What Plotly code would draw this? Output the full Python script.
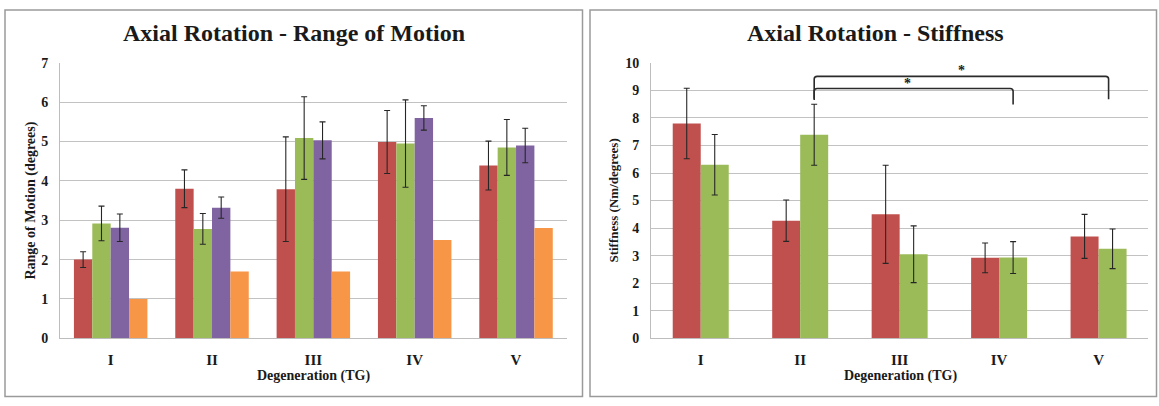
import plotly.graph_objects as go

# ---- data -------------------------------------------------------------
grades = ["I", "II", "III", "IV", "V"]

rom_red = [2.0, 3.8, 3.79, 4.99, 4.39]
rom_red_err = [0.2, 0.48, 1.33, 0.8, 0.62]
rom_green = [2.92, 2.78, 5.09, 4.95, 4.85]
rom_green_err = [0.44, 0.39, 1.05, 1.11, 0.71]
rom_purple = [2.81, 3.32, 5.03, 5.6, 4.9]
rom_purple_err = [0.35, 0.27, 0.47, 0.31, 0.44]
rom_orange = [1.0, 1.7, 1.7, 2.5, 2.8]

stf_red = [7.8, 4.27, 4.5, 2.92, 3.7]
stf_red_err = [1.28, 0.75, 1.78, 0.54, 0.8]
stf_green = [6.3, 7.39, 3.05, 2.93, 3.25]
stf_green_err = [1.1, 1.11, 1.03, 0.58, 0.72]

# significance brackets on the stiffness chart: (from grade, to grade, top, left drop, right drop, star height)
sig_pairs = [
    (1, 3, 9.07, 8.7, 8.49, 9.25),
    (1, 4, 9.51, 8.65, 8.68, 9.74),
]

# ---- style ------------------------------------------------------------
RED, GREEN, PURPLE, ORANGE = "#C0504D", "#9BBB59", "#8064A2", "#F79646"
FONT = "Liberation Serif"
TXT = "#1a1a1a"
GRID = "#c2c2c2"
W, H = 1159, 406

LEFT_GAP = 0.275
RIGHT_GAP = 0.437


def px(x):
    return x / W


def py(y):
    return (H - y) / H


x_idx = list(range(len(grades)))
fig = go.Figure()


def err(vals):
    return dict(type="data", array=vals, visible=True, color="#262626", thickness=1.1, width=3)


rom_w = (1 - LEFT_GAP) / 4
rom_series = [(rom_red, rom_red_err, RED), (rom_green, rom_green_err, GREEN),
              (rom_purple, rom_purple_err, PURPLE), (rom_orange, None, ORANGE)]
for k, (vals, e, col) in enumerate(rom_series):
    fig.add_trace(go.Bar(x=x_idx, y=vals, marker=dict(color=col, line=dict(width=0)),
                         error_y=err(e) if e else None, xaxis="x", yaxis="y",
                         width=rom_w, offset=-2 * rom_w + k * rom_w, showlegend=False))

stf_w = (1 - RIGHT_GAP) / 2
stf_series = [(stf_red, stf_red_err, RED), (stf_green, stf_green_err, GREEN)]
for k, (vals, e, col) in enumerate(stf_series):
    fig.add_trace(go.Bar(x=x_idx, y=vals, marker=dict(color=col, line=dict(width=0)),
                         error_y=err(e), xaxis="x2", yaxis="y2",
                         width=stf_w, offset=-stf_w + k * stf_w, showlegend=False))

tickfont = dict(family=FONT, size=14, color=TXT, weight="bold")
xcommon = dict(tickmode="array", tickvals=x_idx, ticktext=grades, range=[-0.5, 4.5],
               showgrid=False, showline=True, linecolor="#bdbdbd", linewidth=1,
               ticks="", tickfont=dict(family=FONT, size=15, color=TXT, weight="bold"),
               ticklabelstandoff=8, zeroline=False, fixedrange=True)
ycommon = dict(showgrid=True, gridcolor=GRID, gridwidth=1, showline=True, linecolor="#bdbdbd",
               linewidth=1, ticks="", tickfont=tickfont, ticklabelstandoff=8,
               zeroline=False, dtick=1, fixedrange=True)

y_bot, y_top = 344, 58
fig.update_layout(
    width=W, height=H, margin=dict(l=0, r=0, t=0, b=0),
    paper_bgcolor="white", plot_bgcolor="white",
    barmode="overlay",
    xaxis=dict(domain=[px(60), px(566.7)], anchor="y", **xcommon),
    yaxis=dict(domain=[py(y_bot), py(y_top)], anchor="x", range=[0, 7], **ycommon),
    xaxis2=dict(domain=[px(651), px(1148.3)], anchor="y2", **xcommon),
    yaxis2=dict(domain=[py(y_bot), py(y_top)], anchor="x2", range=[0, 10], **ycommon),
)

shapes = []
# panel frames
for x0, x1 in [(5, 582.5), (590, 1156.5)]:
    shapes.append(dict(type="rect", xref="paper", yref="paper", x0=px(x0), x1=px(x1),
                       y0=py(404.5), y1=py(3), line=dict(color="#9a9a9a", width=1.5)))

annotations = []
# significance brackets
green_off = stf_w / 2
rx, ry = 0.03, 0.1
for a, b, top, dl, dr, star in sig_pairs:
    xl = a + green_off
    xr = b + green_off - (0.04 if b == 4 else 0)
    path = (f"M {xl},{dl} L {xl},{top - ry} Q {xl},{top} {xl + rx},{top} "
            f"L {xr - rx},{top} Q {xr},{top} {xr},{top - ry} L {xr},{dr}")
    shapes.append(dict(type="path", xref="x2", yref="y2", path=path,
                       line=dict(color="#2b2b2b", width=1.6)))
    annotations.append(dict(x=(xl + xr) / 2 - (0.06 if b == 3 else 0), y=star, xref="x2", yref="y2",
                            xanchor="center", yanchor="middle",
                            text="*", showarrow=False,
                            font=dict(family=FONT, size=14, color=TXT, weight="bold")))


def label(x, y, text, size, angle=0):
    return dict(x=px(x), y=py(y), xref="paper", yref="paper", text=text,
                xanchor="center", yanchor="middle", textangle=angle, showarrow=False,
                font=dict(family=FONT, size=size, color=TXT, weight="bold"))


annotations += [
    label(294, 27, "Axial Rotation - Range of Motion", 24),
    label(875, 27, "Axial Rotation - Stiffness", 24),
    label(313.5, 383, "Degeneration (TG)", 14),
    label(900, 383, "Degeneration (TG)", 14),
    label(31, 201, "Range of Motion (degrees)", 14, -90),
    label(614, 201, "Stiffness (Nm/degrees)", 13, -90),
]

fig.update_layout(shapes=shapes, annotations=annotations)
fig.write_html("out.html")
